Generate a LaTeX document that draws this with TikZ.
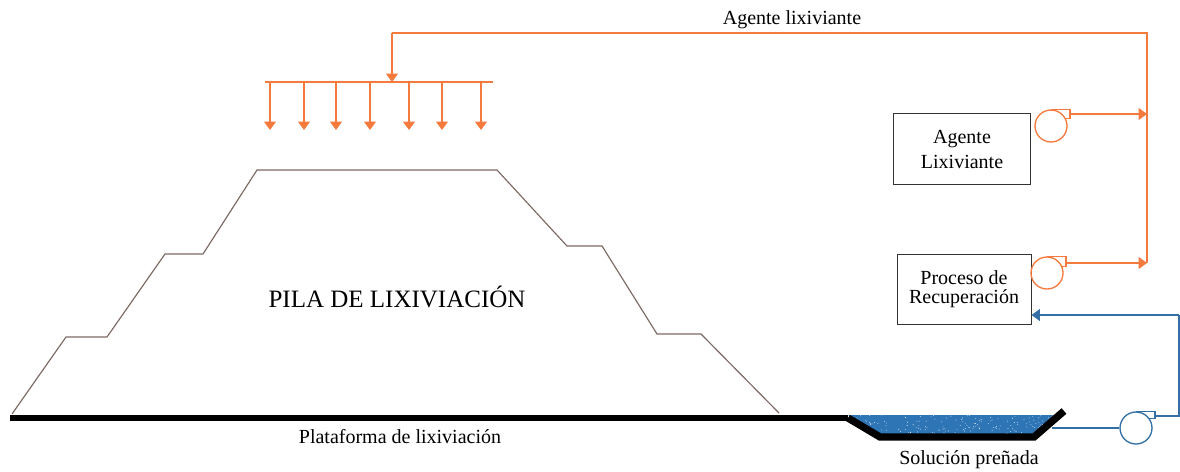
\documentclass[tikz,border=0pt]{standalone}
\usepackage{fontspec}
\setmainfont{Liberation Serif}
\usetikzlibrary{arrows.meta}

\definecolor{agente}{RGB}{246,122,62}
\definecolor{solucion}{RGB}{52,112,165}
\definecolor{agua}{RGB}{46,117,182}
\definecolor{pila}{RGB}{125,105,100}

\tikzset{
  tubo/.style={agente, line width=1pt},
  tuboazul/.style={solucion, line width=0.9pt},
  punta/.style={-{Triangle[width=7pt,length=5pt]}},
  bomba/.style={circle, draw, line width=0.8pt, minimum size=19.2pt, inner sep=0pt},
  caja/.style={draw=black!80, line width=0.6pt, align=center, inner sep=0pt},
  every node/.append style={font=\fontsize{12}{14}\selectfont},
}

\begin{document}
\begin{tikzpicture}[x=0.6pt,y=-0.6pt]
\useasboundingbox (0,0) rectangle (1180,471);

% pila escalonada
\draw[pila, line width=0.7pt] (12,414) -- (66,337) -- (107,337) -- (165,254) -- (203,254)
  -- (257,170) -- (497,170) -- (567,246) -- (602,246) -- (657,334) -- (701,334) -- (779,413);
\node (pila) at (397,297) {\fontsize{15}{18}\selectfont PILA DE LIXIVIACIÓN};

% poza de solucion
\fill[agua] (848,415) -- (1058,415) -- (1034,434) -- (879,434) -- cycle;
\begin{scope}
  \clip (848,415) -- (1058,415) -- (1034,434) -- (879,434) -- cycle;
  \pgfmathsetseed{3}
  \foreach \i in {1,...,170}{
    \pgfmathsetmacro{\sx}{848+210*rnd}
    \pgfmathsetmacro{\sy}{415+19*rnd}
    \fill[white] (\sx,\sy) circle[radius=0.25pt];
  }
\end{scope}

% bomba de solucion rica
\coordinate (salida) at (1052,428);
\node[bomba, draw=solucion] (bomba3) at (1136,428) {};
\draw[tuboazul] (salida) -- (bomba3.west);
\draw[solucion, line width=0.8pt] (bomba3.north) -- ++(19,0) -- ++(0,7) -- ++(-6,0);
\coordinate (b3out) at (1155,416);
\coordinate (esq3) at (1179,416);
\coordinate (ret) at (1179,315);

% plataforma
\draw[line width=3.8pt] (10,418) -- (848,418);
\draw[line width=4.4pt] (848,418) -- (880,437) -- (1034,437) -- (1064,411);
\node (plataforma) at (400,437) {Plataforma de lixiviación};
\node (solucion) at (969,460) {Solución preñada};

% cajas
\node[caja, minimum width=82.2pt, minimum height=42.6pt,
  font=\fontsize{12}{15}\selectfont] (agente) at (962,149) {Agente\\Lixiviante};
\node[caja, minimum width=80.4pt, minimum height=42pt,
  font=\fontsize{12}{11.5}\selectfont] (proceso) at (964,289) {Proceso de\\Recuperación};

% retorno al proceso
\draw[tuboazul] (b3out) -- (esq3) -- (ret);
\draw[tuboazul, punta] (ret) -- (ret -| proceso.east);

% bombas de agente
\node[bomba, draw=agente] (bomba1) at (1051,126) {};
\draw[agente, line width=0.8pt] (bomba1.north) -- ++(19,0) -- ++(0,9) -- ++(-5,0);
\node[bomba, draw=agente] (bomba2) at (1047,273) {};
\draw[agente, line width=0.8pt] (bomba2.north) -- ++(19,0) -- ++(0,10) -- ++(-5,0);

% linea de agente lixiviante
\coordinate (dosif) at (392,33);
\coordinate (esq) at (1147,33);
\coordinate (retorno) at (1147,263);
\coordinate (b1out) at (1070,114);
\coordinate (b2out) at (1066,263);
\draw[tubo] (retorno) -- (esq) -- (dosif);
\draw[tubo, punta] (b1out) -- (b1out -| esq);
\draw[tubo, punta] (b2out) -- (retorno);
\node (linea) at (792,20) {Agente lixiviante};

% riego
\coordinate (riego-i) at (265,82);
\coordinate (riego-d) at (493,82);
\draw[tubo] (riego-i) -- (riego-d);
\draw[tubo, punta] (dosif) -- (dosif |- riego-i);
\foreach \x in {270,304,336,370,409,442,481}
  \draw[tubo, punta] (\x,82) -- (\x,130);

\end{tikzpicture}
\end{document}
